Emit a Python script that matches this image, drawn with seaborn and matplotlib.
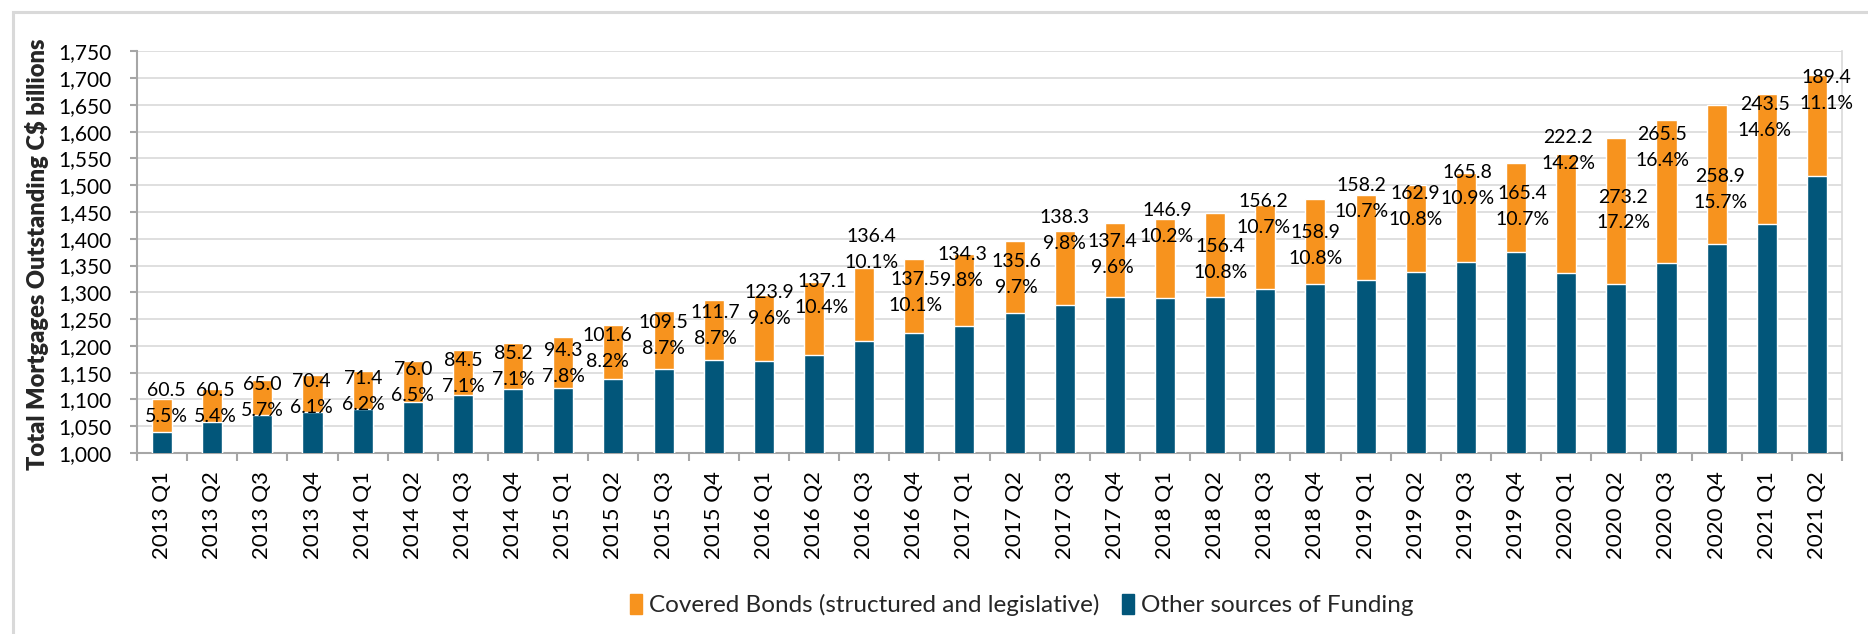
import pandas as pd
import matplotlib.pyplot as plt
import matplotlib.patches as mpatches
from matplotlib.ticker import FixedLocator, FuncFormatter
import seaborn as sns

# --- Data (C$ billions) ---
quarters = ['2013 Q1', '2013 Q2', '2013 Q3', '2013 Q4', '2014 Q1', '2014 Q2', '2014 Q3', '2014 Q4',
            '2015 Q1', '2015 Q2', '2015 Q3', '2015 Q4', '2016 Q1', '2016 Q2', '2016 Q3', '2016 Q4',
            '2017 Q1', '2017 Q2', '2017 Q3', '2017 Q4', '2018 Q1', '2018 Q2', '2018 Q3', '2018 Q4',
            '2019 Q1', '2019 Q2', '2019 Q3', '2019 Q4', '2020 Q1', '2020 Q2', '2020 Q3', '2020 Q4',
            '2021 Q1', '2021 Q2']
total_mortgages = [1100, 1119, 1136, 1146, 1153, 1171, 1193, 1205, 1216, 1239, 1266, 1285,
                   1295, 1320, 1346, 1362, 1372, 1396, 1414, 1429, 1436, 1448, 1463, 1474,
                   1482, 1501, 1523, 1541, 1559, 1588, 1621, 1650, 1671, 1706]
covered_bonds = [60.5, 60.5, 65.0, 70.4, 71.4, 76.0, 84.5, 85.2, 94.3, 101.6, 109.5, 111.7,
                 123.9, 137.1, 136.4, 137.5, 134.3, 135.6, 138.3, 137.4, 146.9, 156.4, 156.2, 158.9,
                 158.2, 162.9, 165.8, 165.4, 222.2, 273.2, 265.5, 258.9, 243.5, 189.4]
covered_pct = [5.5, 5.4, 5.7, 6.1, 6.2, 6.5, 7.1, 7.1, 7.8, 8.2, 8.7, 8.7,
               9.6, 10.4, 10.1, 10.1, 9.8, 9.7, 9.8, 9.6, 10.2, 10.8, 10.7, 10.8,
               10.7, 10.8, 10.9, 10.7, 14.2, 17.2, 16.4, 15.7, 14.6, 11.1]

# --- Label placement (as laid out in the original chart) ---
label_y = [1116, 1116, 1127, 1134, 1139, 1155, 1172, 1185, 1191, 1220, 1243, 1262,
           1299, 1320, 1404, 1323, 1370, 1358, 1440, 1395, 1452, 1385, 1469, 1411,
           1500, 1484, 1523, 1485, 1589, 1478, 1594, 1517, 1650, 1701]
label_dx = [0.09, 0.07, 0, -0.02, 0.01, 0, 0, 0, 0, -0.12, 0, 0.04,
            0.11, 0.16, 0.14, 0.03, -0.05, 0.04, 0, -0.05, 0.04, 0.11, -0.04, 0,
            -0.08, 0, 0.03, 0.12, 0.04, 0.14, -0.08, 0.07, -0.04, 0.19]

ORANGE = '#F7931E'
TEAL = '#02567A'


def main():
    df = pd.DataFrame({'Quarter': quarters, 'Total': total_mortgages, 'Covered': covered_bonds})
    df['Other'] = df['Total'] - df['Covered']

    sns.set_theme(style='white')
    plt.rcParams['font.family'] = ['Lato', 'DejaVu Sans']

    fig = plt.figure(figsize=(18.68, 6.34), dpi=100)
    ax = fig.add_axes([137 / 1868, 1 - 452.9 / 634, 1705 / 1868, 401.5 / 634])

    # stacked bars: full total in orange, other funding drawn over it
    sns.barplot(data=df, x='Quarter', y='Total', color=ORANGE, width=0.4,
                saturation=1, ax=ax, zorder=3)
    sns.barplot(data=df, x='Quarter', y='Other', color=TEAL, width=0.4,
                saturation=1, ax=ax, zorder=3)

    ax.set_ylim(1000, 1750)
    ax.set_xlim(-0.5, len(quarters) - 0.5)
    ax.set_yticks(range(1000, 1751, 50))
    ax.yaxis.set_major_formatter(FuncFormatter(lambda v, p: f'{int(v):,}'))
    ax.grid(axis='y', color='#d9d9d9', linewidth=1.2, zorder=0)
    ax.set_axisbelow(True)

    for side in ['left', 'bottom']:
        ax.spines[side].set_color('#a6a6a6')
        ax.spines[side].set_linewidth(1.5)
    ax.spines['right'].set_color('#d9d9d9')
    ax.spines['right'].set_linewidth(1.2)
    ax.spines['top'].set_visible(False)

    ax.tick_params(axis='y', which='major', left=True, length=5, width=1.5, color='#a6a6a6',
                   pad=13, labelsize=15, labelcolor='black')
    ax.tick_params(axis='x', which='major', bottom=False, length=0, pad=13, labelsize=16,
                   labelrotation=90, labelcolor='black')
    ax.xaxis.set_minor_locator(FixedLocator([i - 0.5 for i in range(len(quarters) + 1)]))
    ax.tick_params(axis='x', which='minor', bottom=True, length=6, width=1.5, color='#a6a6a6')

    ax.set_xlabel('')
    ax.set_ylabel('Total Mortgages Outstanding C$ billions', fontsize=17, fontweight='heavy')
    ax.yaxis.set_label_coords(-0.0587, 0.494)
    ax.yaxis.label.set_verticalalignment('center')

    # value and share labels
    for i in range(len(quarters)):
        x = i + label_dx[i]
        ax.text(x, label_y[i], f'{covered_bonds[i]:.1f}', ha='center', va='center',
                fontsize=14, color='black', zorder=5)
        ax.annotate(f'{covered_pct[i]:.1f}%', (x, label_y[i]), xytext=(0, -18.7),
                    textcoords='offset points', ha='center', va='center',
                    fontsize=14, color='black', zorder=5)

    handles = [mpatches.Patch(color=ORANGE, label='Covered Bonds (structured and legislative)'),
               mpatches.Patch(color=TEAL, label='Other sources of Funding')]
    fig.legend(handles=handles, loc='center', bbox_to_anchor=(0.547, 0.046), ncol=2,
               frameon=False, fontsize=17.5, handlelength=0.5, handleheight=0.9,
               handletextpad=0.3, columnspacing=0.9)

    # light outer chart border
    fig.patches.append(mpatches.Rectangle((13 / 1868, -0.05), 1.1, 1.05 - 12 / 634,
                                          transform=fig.transFigure, fill=False,
                                          edgecolor='#d9d9d9', linewidth=2.2))

    fig.savefig('out.png', dpi=100)
    plt.close(fig)


if __name__ == '__main__':
    main()
